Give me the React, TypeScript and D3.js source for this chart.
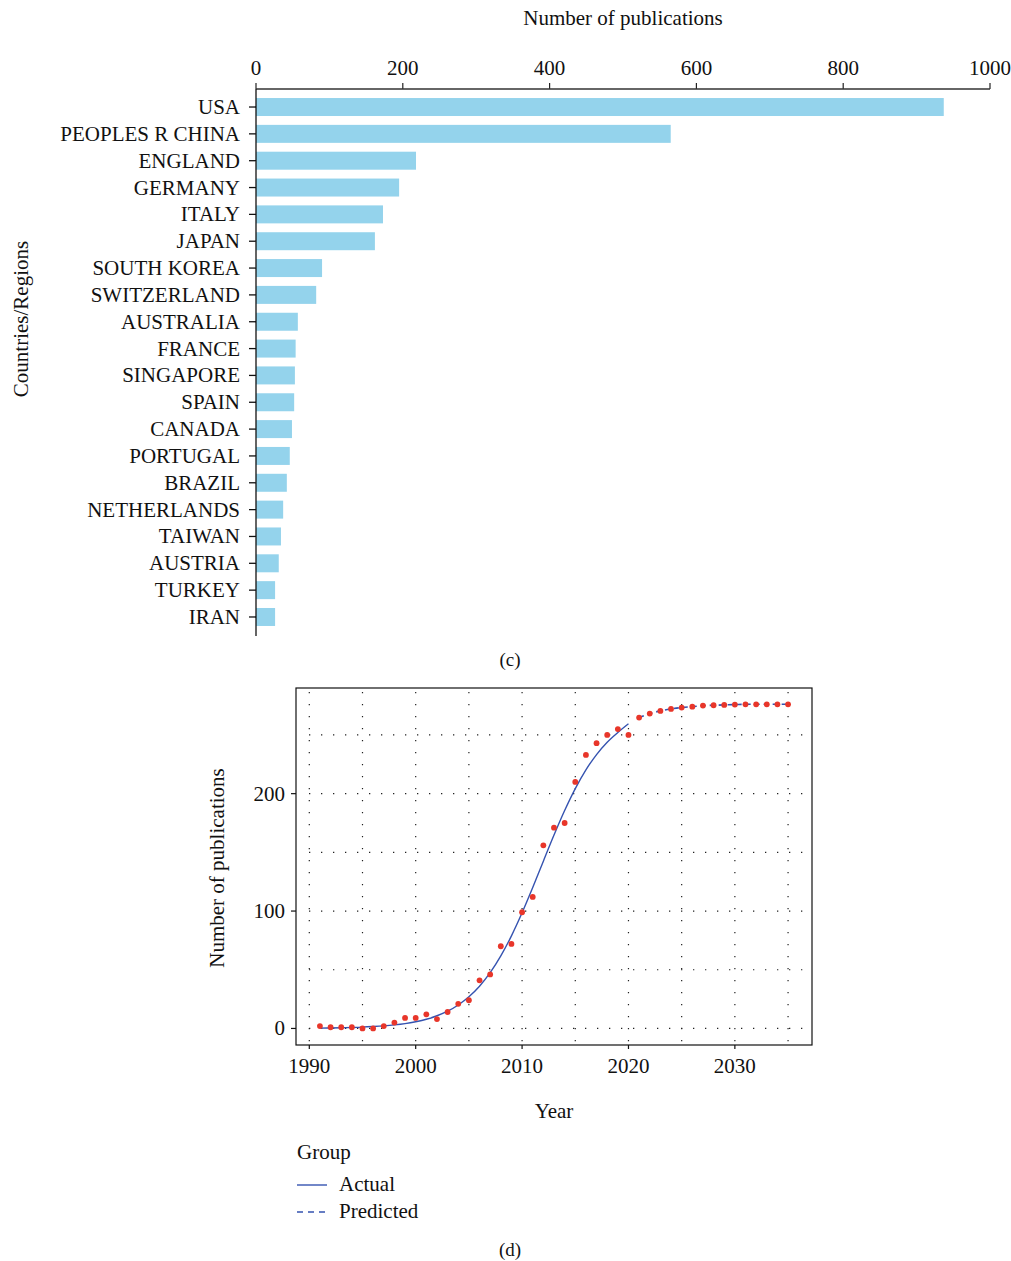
import React from "react";
import * as d3 from "d3";

const countries = [
  "USA", "PEOPLES R CHINA", "ENGLAND", "GERMANY", "ITALY", "JAPAN", "SOUTH KOREA",
  "SWITZERLAND", "AUSTRALIA", "FRANCE", "SINGAPORE", "SPAIN", "CANADA", "PORTUGAL",
  "BRAZIL", "NETHERLANDS", "TAIWAN", "AUSTRIA", "TURKEY", "IRAN",
];
const publications = [937, 565, 218, 195, 173, 162, 90, 82, 57, 54, 53, 52, 49, 46, 42, 37, 34, 31, 26, 26];
const barTicks = [0, 200, 400, 600, 800, 1000];

const actualYears = [
  1991, 1992, 1993, 1994, 1995, 1996, 1997, 1998, 1999, 2000, 2001, 2002, 2003, 2004, 2005,
  2006, 2007, 2008, 2009, 2010, 2011, 2012, 2013, 2014, 2015, 2016, 2017, 2018, 2019, 2020,
];
const actualValues = [
  2, 1, 1, 1, 0, 0, 2, 5, 9, 9, 12, 8, 14, 21, 24, 41, 46, 70, 72, 99, 112,
  156, 171, 175, 210, 233, 243, 250, 255, 250,
];
const actualFit = [
  0.3, 0.4, 0.6, 0.8, 1.1, 1.6, 2.2, 3.0, 4.1, 5.7, 7.8, 10.8, 14.7, 20.0, 27.0,
  36.0, 47.5, 61.8, 78.9, 98.5, 120.0, 142.5, 164.7, 185.6, 204.3, 220.3, 233.3, 243.8, 252.1, 259.5,
];
const predictedYears = [2021, 2022, 2023, 2024, 2025, 2026, 2027, 2028, 2029, 2030, 2031, 2032, 2033, 2034, 2035];
const predictedValues = [264.8, 268.2, 270.5, 272.2, 273.3, 274.1, 275.0, 275.3, 275.6, 275.9, 276.1, 276.1, 276.1, 276.1, 276.1];
const yearTicks = [1990, 2000, 2010, 2020, 2030];
const yearGrid = [1990, 1995, 2000, 2005, 2010, 2015, 2020, 2025, 2030, 2035];
const valueTicks = [0, 100, 200];
const valueGrid = [0, 50, 100, 150, 200, 250];

const FONT = "'Liberation Serif', 'DejaVu Serif', serif";
const BAR = "#94d3ec";
const BLUE = "#3553b0";
const RED = "#e8362a";
const FS = 21;

export default function App() {
  // Bar chart
  const x = d3.scaleLinear().domain([0, 1000]).range([256, 990]);
  const y = d3.scaleBand<string>().domain(countries).range([93.6, 630.4]).paddingInner(0.33).paddingOuter(0.165);
  const axisTop = 89;
  const axisBottom = 636;

  // Line chart
  const bx0 = 296, bx1 = 812, by0 = 688, by1 = 1045;
  const xs = d3.scaleLinear().domain([1988.75, 2037.25]).range([bx0, bx1]);
  const ys = d3.scaleLinear().domain([-14.1, 290]).range([by1, by0]);
  const line = d3.line<[number, number]>().x((d) => xs(d[0])).y((d) => ys(d[1])).curve(d3.curveMonotoneX);
  const actualPath = line(actualYears.map((yr, i) => [yr, actualFit[i]] as [number, number])) || "";
  const predPath = line(predictedYears.map((yr, i) => [yr, predictedValues[i]] as [number, number])) || "";

  const points = [
    ...actualYears.map((yr, i) => [yr, actualValues[i]]),
    ...predictedYears.map((yr, i) => [yr, predictedValues[i]]),
  ];

  return (
    <svg width={1011} height={1261} style={{ position: "absolute", left: 0, top: 0, background: "#fff" }} fontFamily={FONT}>
      <rect x={0} y={0} width={1011} height={1261} fill="#fff" />
      {/* ---------- (c) bar chart ---------- */}
      <text x={(x(0) + x(1000)) / 2} y={25} fontSize={FS} textAnchor="middle" fill="#111">Number of publications</text>
      {barTicks.map((t) => (
        <g key={t}>
          <line x1={x(t)} x2={x(t)} y1={axisTop - 6} y2={axisTop} stroke="#222" strokeWidth={1.2} />
          <text x={x(t)} y={75} fontSize={FS} textAnchor="middle" fill="#111">{t}</text>
        </g>
      ))}
      {countries.map((c, i) => (
        <rect key={c} x={x(0)} y={y(c)!} width={x(publications[i]) - x(0)} height={y.bandwidth()} fill={BAR} />
      ))}
      <line x1={x(0)} x2={x(1000)} y1={axisTop} y2={axisTop} stroke="#333" strokeWidth={1.3} />
      <line x1={x(0)} x2={x(0)} y1={axisTop} y2={axisBottom} stroke="#111" strokeWidth={1.3} />
      {countries.map((c) => {
        const cy = y(c)! + y.bandwidth() / 2;
        return (
          <g key={c}>
            <line x1={x(0) - 7} x2={x(0)} y1={cy} y2={cy} stroke="#111" strokeWidth={1.3} />
            <text x={240} y={cy} fontSize={FS} textAnchor="end" dominantBaseline="central" fill="#111">{c}</text>
          </g>
        );
      })}
      <text transform="translate(28,319) rotate(-90)" fontSize={FS} textAnchor="middle" fill="#111">Countries/Regions</text>
      <text x={510} y={666} fontSize={19} textAnchor="middle" fill="#111">(c)</text>

      {/* ---------- (d) line chart ---------- */}
      <rect x={bx0} y={by0} width={bx1 - bx0} height={by1 - by0} fill="#fff" />
      {yearGrid.map((g) => (
        <line key={"v" + g} x1={xs(g)} x2={xs(g)} y1={by0 + 4} y2={by1} stroke="#222" strokeWidth={1.2} strokeDasharray="1.3 10.7" />
      ))}
      {valueGrid.map((g) => (
        <line key={"h" + g} x1={bx0 + 13} x2={bx1} y1={ys(g)} y2={ys(g)} stroke="#222" strokeWidth={1.2} strokeDasharray="1.3 10.7" />
      ))}
      <path d={actualPath} fill="none" stroke={BLUE} strokeWidth={1.4} />
      <path d={predPath} fill="none" stroke={BLUE} strokeWidth={1.6} strokeDasharray="5 4" />
      {points.map((p, i) => (
        <circle key={i} cx={xs(p[0])} cy={ys(p[1])} r={2.9} fill={RED} />
      ))}
      <rect x={bx0} y={by0} width={bx1 - bx0} height={by1 - by0} fill="none" stroke="#111" strokeWidth={1.2} />
      {yearTicks.map((t) => (
        <g key={t}>
          <line x1={xs(t)} x2={xs(t)} y1={by1} y2={by1 + 4} stroke="#111" strokeWidth={1.2} />
          <text x={xs(t)} y={1073} fontSize={FS} textAnchor="middle" fill="#111">{t}</text>
        </g>
      ))}
      {valueTicks.map((t) => (
        <g key={t}>
          <line x1={bx0 - 5} x2={bx0} y1={ys(t)} y2={ys(t)} stroke="#111" strokeWidth={1.2} />
          <text x={285} y={ys(t)} fontSize={FS} textAnchor="end" dominantBaseline="central" fill="#111">{t}</text>
        </g>
      ))}
      <text x={554} y={1118} fontSize={FS} textAnchor="middle" fill="#111">Year</text>
      <text transform="translate(224,868) rotate(-90)" fontSize={FS} textAnchor="middle" fill="#111">Number of publications</text>

      {/* legend */}
      <text x={297} y={1159} fontSize={FS} fill="#111">Group</text>
      <line x1={297} x2={327} y1={1185} y2={1185} stroke={BLUE} strokeWidth={1.4} />
      <text x={339} y={1191} fontSize={FS} fill="#111">Actual</text>
      <line x1={297} x2={327} y1={1212} y2={1212} stroke={BLUE} strokeWidth={1.4} strokeDasharray="6 5" />
      <text x={339} y={1218} fontSize={FS} fill="#111">Predicted</text>
      <text x={510} y={1256} fontSize={19} textAnchor="middle" fill="#111">(d)</text>
    </svg>
  );
}
